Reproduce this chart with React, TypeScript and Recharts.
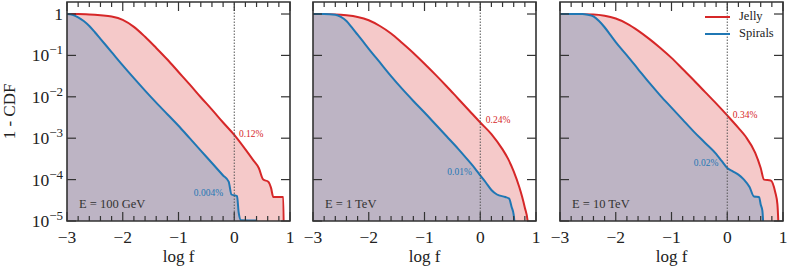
import React from 'react';
import {
  ComposedChart,
  Area,
  XAxis,
  YAxis,
  ReferenceLine,
  ReferenceArea,
  ReferenceDot,
  Legend,
} from 'recharts';

const FONT = "'Liberation Serif', 'DejaVu Serif', serif";
const RED = '#d62728';
const BLUE = '#1f77b4';
const RED_FILL = '#f5c9c9';
const BLUE_FILL = '#bdb4c4';
const INK = '#333333';

// log10(1 - CDF) against log f
const jelly100: [number, number][] = [
  [-3, 0], [-2.8, 0], [-2.6, -0.01], [-2.4, -0.03], [-2.2, -0.06], [-2.0, -0.14],
  [-1.8, -0.31], [-1.6, -0.55], [-1.4, -0.82], [-1.2, -1.1], [-1.0, -1.4], [-0.8, -1.7],
  [-0.6, -2.01], [-0.4, -2.31], [-0.2, -2.62], [0, -2.92], [0.2, -3.27], [0.34, -3.53],
  [0.44, -3.72], [0.52, -4.0], [0.61, -4.05], [0.66, -4.2], [0.7, -4.42], [0.88, -4.42],
  [0.89, -5.5],
];
const spirals100: [number, number][] = [
  [-3, 0], [-2.9, -0.02], [-2.8, -0.08], [-2.7, -0.17], [-2.6, -0.29], [-2.5, -0.44],
  [-2.4, -0.6], [-2.2, -0.92], [-2.0, -1.24], [-1.8, -1.55], [-1.6, -1.85], [-1.4, -2.14],
  [-1.2, -2.42], [-1.0, -2.7], [-0.8, -3.0], [-0.6, -3.3], [-0.4, -3.6], [-0.2, -3.9],
  [-0.1, -4.05], [-0.05, -4.36], [0.05, -4.4], [0.08, -4.8], [0.12, -4.98], [0.4, -4.99],
  [0.42, -5.5],
];
const jelly1: [number, number][] = [
  [-3, 0], [-2.6, -0.01], [-2.4, -0.03], [-2.2, -0.07], [-2.0, -0.15], [-1.8, -0.29],
  [-1.6, -0.47], [-1.4, -0.7], [-1.2, -0.94], [-1.0, -1.2], [-0.8, -1.47], [-0.6, -1.75],
  [-0.4, -2.04], [-0.2, -2.33], [0, -2.62], [0.2, -2.9], [0.4, -3.27], [0.5, -3.5],
  [0.6, -3.8], [0.7, -4.18], [0.75, -4.41], [0.8, -4.68], [0.85, -5.0], [0.88, -5.5],
];
const spirals1: [number, number][] = [
  [-3, 0], [-2.8, 0], [-2.6, -0.02], [-2.5, -0.07], [-2.4, -0.17], [-2.3, -0.33],
  [-2.2, -0.5], [-2.1, -0.67], [-2.0, -0.84], [-1.8, -1.17], [-1.6, -1.5], [-1.4, -1.81],
  [-1.2, -2.1], [-1.0, -2.38], [-0.8, -2.67], [-0.6, -2.96], [-0.4, -3.25], [-0.2, -3.56],
  [-0.1, -3.72], [0, -3.9], [0.1, -4.07], [0.2, -4.25], [0.3, -4.36], [0.45, -4.42],
  [0.52, -4.46], [0.56, -4.65], [0.6, -4.85], [0.64, -5.5],
];
const jelly10: [number, number][] = [
  [-3, 0], [-2.4, -0.01], [-2.2, -0.04], [-2.0, -0.11], [-1.8, -0.23], [-1.6, -0.4],
  [-1.4, -0.6], [-1.2, -0.82], [-1.0, -1.06], [-0.8, -1.33], [-0.6, -1.6], [-0.4, -1.88],
  [-0.2, -2.16], [0, -2.45], [0.2, -2.75], [0.33, -2.96], [0.5, -3.35], [0.6, -3.72],
  [0.66, -4.0], [0.78, -4.02], [0.86, -4.3], [0.9, -4.6], [0.93, -5.5],
];
const spirals10: [number, number][] = [
  [-3, 0], [-2.6, 0], [-2.5, -0.02], [-2.4, -0.06], [-2.3, -0.17], [-2.2, -0.32],
  [-2.1, -0.5], [-2.0, -0.68], [-1.8, -1.0], [-1.6, -1.33], [-1.4, -1.66], [-1.2, -1.97],
  [-1.0, -2.26], [-0.8, -2.55], [-0.6, -2.84], [-0.4, -3.11], [-0.2, -3.38], [-0.1, -3.55],
  [0, -3.72], [0.1, -3.8], [0.2, -3.88], [0.3, -4.0], [0.4, -4.18], [0.48, -4.41],
  [0.57, -4.42], [0.6, -4.6], [0.63, -4.75], [0.66, -5.5],
];

const energies = ['E = 100 GeV', 'E = 1 TeV', 'E = 10 TeV'];
const jellyAtZero = ['0.12%', '0.24%', '0.34%'];
const spiralsAtZero = ['0.004%', '0.01%', '0.02%'];
const seriesNames = ['Jelly', 'Spirals'];

const xTicks = [
  -3, -2.8, -2.6, -2.4, -2.2, -2, -1.8, -1.6, -1.4, -1.2, -1, -0.8, -0.6, -0.4, -0.2,
  0, 0.2, 0.4, 0.6, 0.8, 1,
];
const yTicks = [-5, -4, -3, -2, -1, 0];

// where the small percentage notes sit, in data units
const jellyNotePos: [number, number][] = [[0.085, -2.9], [0.1, -2.56], [0.1, -2.42]];
const spiralsNotePos: [number, number][] = [[-0.2, -4.32], [-0.15, -3.8], [-0.16, -3.6]];
const energyPos: [number, number] = [-2.785, -4.57];

const W = 300;
const H = 271;
const PLOT_TOP = 2;
const PLOT_BOTTOM = 221;
const PLOT_LEFT = 67;
const PLOT_RIGHT = 290;
const Y_TOP = 0.29;
const panelLeft = [0, 246, 493];

const toPoints = (arr: [number, number][]) => arr.map(([x, y]) => ({ x, y }));
const panels = [
  { jelly: toPoints(jelly100), spirals: toPoints(spirals100) },
  { jelly: toPoints(jelly1), spirals: toPoints(spirals1) },
  { jelly: toPoints(jelly10), spirals: toPoints(spirals10) },
];

const txt = (size: number) => ({ fontFamily: FONT, fontSize: size });

const XTick = (props: any) => {
  const { x, payload } = props;
  const v = payload.value;
  const major = Math.abs(v - Math.round(v)) < 1e-6;
  const len = major ? 9 : 5;
  const label = v < 0 ? `\u2212${Math.abs(v)}` : `${Math.round(v)}`;
  return (
    <g>
      <line x1={x} x2={x} y1={PLOT_BOTTOM} y2={PLOT_BOTTOM - len} stroke={INK} strokeWidth={1.2} />
      <line x1={x} x2={x} y1={PLOT_TOP} y2={PLOT_TOP + len} stroke={INK} strokeWidth={1.2} />
      {major && (
        <text x={x} y={PLOT_BOTTOM + 22} textAnchor="middle" style={txt(17.5)} fill="#222">
          {label}
        </text>
      )}
    </g>
  );
};

const YTick = (props: any) => {
  const { y, payload, showLabel } = props;
  const v = payload.value;
  return (
    <g>
      <line x1={PLOT_LEFT} x2={PLOT_LEFT + 9} y1={y} y2={y} stroke={INK} strokeWidth={1.2} />
      <line x1={PLOT_RIGHT} x2={PLOT_RIGHT - 9} y1={y} y2={y} stroke={INK} strokeWidth={1.2} />
      {showLabel && (
        <text x={63} y={y + 6} textAnchor="end" style={txt(17.5)} fill="#222">
          {v === 0 ? '1' : '10'}
          {v !== 0 && (
            <tspan dy={-7} style={txt(13)}>{`\u2212${Math.abs(v)}`}</tspan>
          )}
        </text>
      )}
    </g>
  );
};

const XLabel = (props: any) => {
  const vb = props.viewBox || {};
  return (
    <text x={vb.x + vb.width / 2} y={vb.y + 41} textAnchor="middle" style={txt(17)} fill="#222">
      log f
    </text>
  );
};

const YLabel = (props: any) => {
  const vb = props.viewBox || {};
  const cy = vb.y + vb.height / 2;
  return (
    <text x={15} y={cy} transform={`rotate(-90 15 ${cy})`} textAnchor="middle" style={txt(17)} fill="#222">
      1 - CDF
    </text>
  );
};

const noteShape = (text: string, color: string, anchor: string, size: number) => (p: any) => (
  <text x={p.cx} y={p.cy} dy="0.35em" textAnchor={anchor} style={txt(size)} fill={color}>
    {text}
  </text>
);

const LegendBox = () => (
  <div style={{ fontFamily: FONT, fontSize: 12.5, color: '#222', lineHeight: '17px' }}>
    {seriesNames.map((name, i) => (
      <div key={name} style={{ display: 'flex', alignItems: 'center' }}>
        <svg width={26} height={10}>
          <line x1={0} x2={25} y1={5} y2={5} stroke={i === 0 ? RED : BLUE} strokeWidth={2} />
        </svg>
        <span style={{ marginLeft: 8 }}>{name}</span>
      </div>
    ))}
  </div>
);

const Panel = ({ i }: { i: number }) => {
  const p = panels[i];
  return (
    <div style={{ position: 'absolute', left: panelLeft[i], top: 0, width: W, height: H }}>
      <ComposedChart width={W} height={H} margin={{ top: PLOT_TOP, right: W - PLOT_RIGHT, bottom: 0, left: 0 }}>
        <XAxis
          dataKey="x"
          type="number"
          domain={[-3, 1]}
          allowDataOverflow
          ticks={xTicks}
          interval={0}
          tick={<XTick />}
          tickLine={false}
          axisLine={false}
          height={H - PLOT_BOTTOM}
          label={<XLabel />}
        />
        <YAxis
          type="number"
          domain={[-5, Y_TOP]}
          allowDataOverflow
          ticks={yTicks}
          interval={0}
          tick={<YTick showLabel={i === 0} />}
          tickLine={false}
          axisLine={false}
          width={PLOT_LEFT}
          label={i === 0 ? <YLabel /> : undefined}
        />
        <Area
          data={p.jelly}
          dataKey="y"
          name={seriesNames[0]}
          type="monotone"
          stroke={RED}
          strokeWidth={2}
          fill={RED_FILL}
          fillOpacity={1}
          baseValue={-5}
          isAnimationActive={false}
        />
        <Area
          data={p.spirals}
          dataKey="y"
          name={seriesNames[1]}
          type="monotone"
          stroke={BLUE}
          strokeWidth={2}
          fill={BLUE_FILL}
          fillOpacity={1}
          baseValue={-5}
          isAnimationActive={false}
        />
        <ReferenceLine x={0} stroke="#555" strokeWidth={1} strokeDasharray="1.5 1.5" />
        <ReferenceArea x1={-3} x2={1} y1={-5} y2={Y_TOP} fill="none" fillOpacity={0} stroke={INK} strokeWidth={1.6} />
        <ReferenceDot x={jellyNotePos[i][0]} y={jellyNotePos[i][1]} r={0} shape={noteShape(jellyAtZero[i], RED, 'start', 9.5)} />
        <ReferenceDot x={spiralsNotePos[i][0]} y={spiralsNotePos[i][1]} r={0} shape={noteShape(spiralsAtZero[i], BLUE, 'end', 9.5)} />
        <ReferenceDot x={energyPos[0]} y={energyPos[1]} r={0} shape={noteShape(energies[i], '#333', 'start', 12.5)} />
        {i === 2 && (
          <Legend
            layout="vertical"
            align="center"
            verticalAlign="middle"
            wrapperStyle={{ left: 212, top: 8, width: 'auto', height: 'auto' }}
            content={<LegendBox />}
          />
        )}
      </ComposedChart>
    </div>
  );
};

export default function App() {
  return (
    <div style={{ position: 'absolute', left: 0, top: 0, width: 789, height: 271, background: '#fff', overflow: 'hidden' }}>
      {[0, 1, 2].map((i) => (
        <Panel key={i} i={i} />
      ))}
    </div>
  );
}
